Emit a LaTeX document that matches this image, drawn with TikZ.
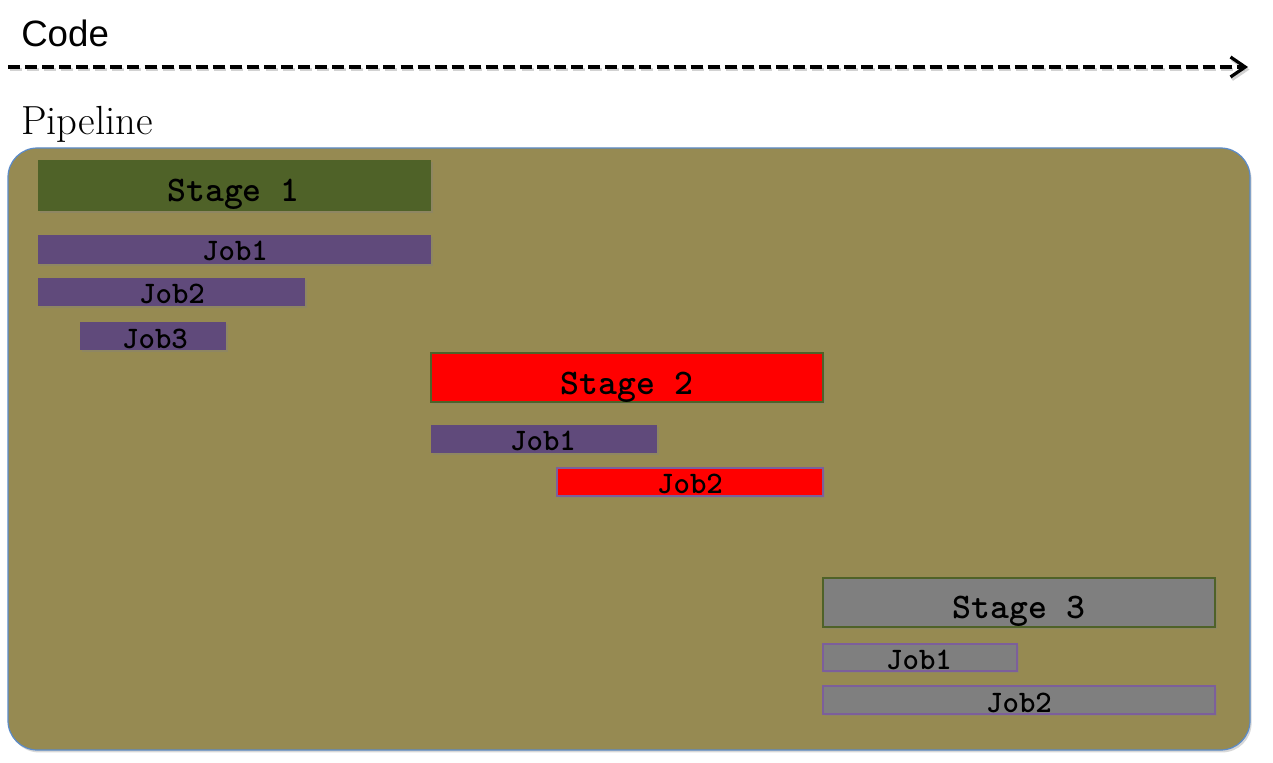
\documentclass[tikz,border=0pt]{standalone}
\usepackage{fontspec}
\newfontfamily\codefont{Liberation Sans}
\usetikzlibrary{arrows.meta,shadows,fit}
\definecolor{olivebg}{HTML}{968A52}
\definecolor{stagegreen}{HTML}{4F6228}
\definecolor{jobpurple}{HTML}{604A7B}
\definecolor{stagegray}{HTML}{7F7F7F}
\definecolor{pipeborder}{HTML}{5B8BC9}
\definecolor{jobborder}{HTML}{7C5F9B}
\begin{document}
\begin{tikzpicture}[x=0.75pt,y=-0.75pt,
  bar/.style={inner sep=0pt, drop shadow={opacity=0.35, shadow xshift=1.2pt, shadow yshift=-1.6pt}},
  purplejob/.style={bar, fill=jobpurple},
  stagetext/.style={inner sep=0pt, anchor=base, font=\ttfamily\bfseries\fontsize{27}{27}\selectfont},
  jobtext/.style={inner sep=0pt, anchor=base, font=\ttfamily\bfseries\fontsize{23.5}{23.5}\selectfont},
  titletext/.style={inner sep=0pt, anchor=base west},
  codearrow/.style={line width=2.4pt, dash pattern=on 9pt off 3.8pt,
    -{Straight Barb[length=11pt,width=15pt]}}
]
\useasboundingbox[fill=white] (0,0) rectangle (1273,763);

% titles
\node[titletext, font=\codefont\fontsize{27.5}{27.5}\selectfont] (code) at (21,47) {Code};
\node[titletext, font=\fontsize{30.5}{30.5}\selectfont] (pipelabel) at (21,135) {Pipeline};

% arrow
\coordinate (a0) at (8,67);
\coordinate (a1) at (1248,67);
\coordinate (a0s) at (9.5,69.5);
\coordinate (a1s) at (1249.5,69.5);
\draw[codearrow, black!35, opacity=0.5] (a0s) -- (a1s);
\draw[codearrow] (a0) -- (a1);

% pipeline box
\node[fit={(8,148) (1250,750)}, inner sep=0pt, rounded corners=22pt, fill=olivebg,
  draw=pipeborder, line width=0.9pt,
  drop shadow={opacity=0.3, shadow xshift=1.2pt, shadow yshift=-1.8pt}] (pipe) {};

% stage 1
\node[bar, fill=stagegreen, fit={(38,160) (431,211)}] (s1) {};
\node[purplejob, fit={(38,235) (431,264)}] (s1j1) {};
\node[purplejob, fit={(38,278) (305,306)}] (s1j2) {};
\node[purplejob, fit={(80,322) (226,350)}] (s1j3) {};
\node[stagetext] (s1t) at (233.5,201) {Stage 1};
\node[jobtext] (s1j1t) at (235,260) {Job1};
\node[jobtext] (s1j2t) at (172,303) {Job2};
\node[jobtext] (s1j3t) at (155,348) {Job3};

% stage 2
\node[bar, fill=red, draw=stagegreen, line width=0.8pt, fit={(431,353) (823,402)}] (s2) {};
\node[purplejob, fit={(431,425) (657,453)}] (s2j1) {};
\node[bar, fill=red, draw=jobborder, line width=0.9pt, fit={(557,468) (823,496)}] (s2j2) {};
\node[stagetext] (s2t) at (627,394) {Stage 2};
\node[jobtext] (s2j1t) at (543,450) {Job1};
\node[jobtext] (s2j2t) at (690,493) {Job2};

% stage 3
\node[bar, fill=stagegray, draw=stagegreen, line width=0.9pt, fit={(823,578) (1215,627)}] (s3) {};
\node[bar, fill=stagegray, draw=jobborder, line width=0.9pt, fit={(823,644) (1017,671)}] (s3j1) {};
\node[bar, fill=stagegray, draw=jobborder, line width=0.9pt, fit={(823,686) (1215,714)}] (s3j2) {};
\node[stagetext] (s3t) at (1019,618) {Stage 3};
\node[jobtext] (s3j1t) at (919,669) {Job1};
\node[jobtext] (s3j2t) at (1019,712) {Job2};
\end{tikzpicture}
\end{document}
